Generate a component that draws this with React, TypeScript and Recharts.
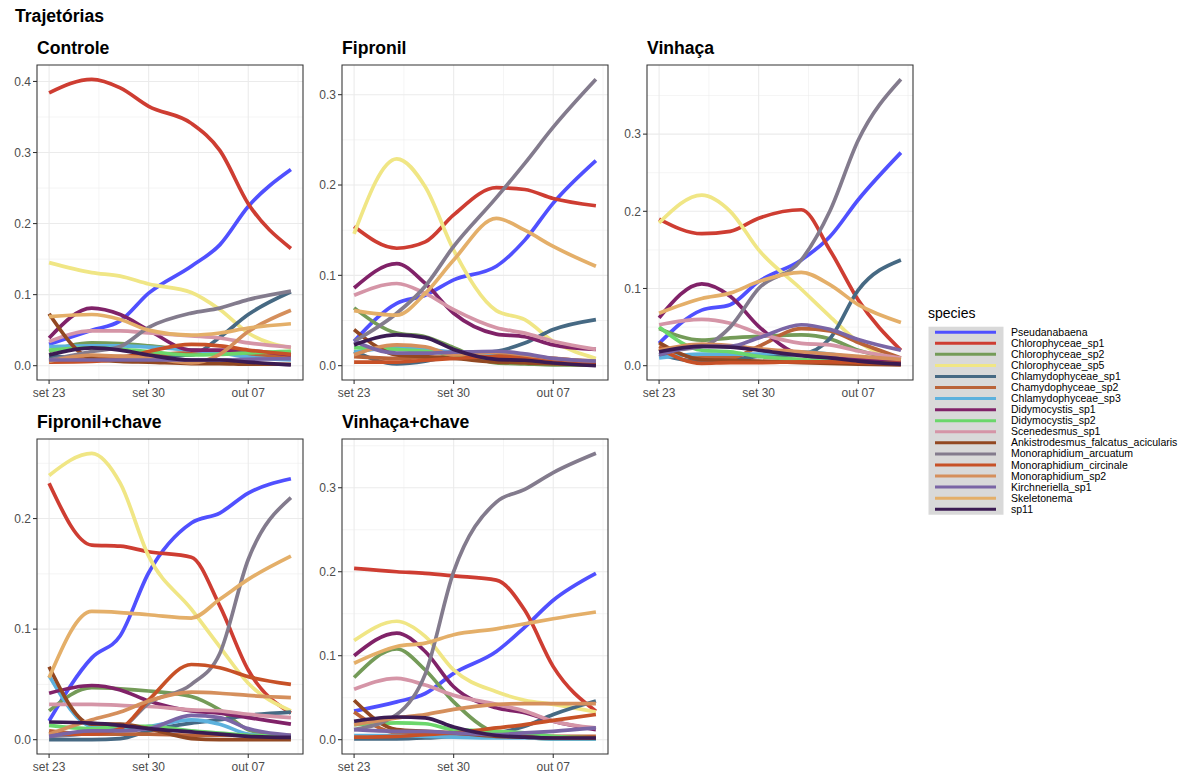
import React from "react";
import { LineChart, Line, XAxis, YAxis, CartesianGrid, ReferenceArea } from "recharts";

// Sampling days (days after set 23)
const days = [0, 3, 5, 7, 10, 12, 14, 17];
const tickDays = [0, 7, 14];
const tickLabels = ["set 23", "set 30", "out 07"];
const minorDays = [3.5, 10.5, 17.5];

const species = [
  "Pseudanabaena",
  "Chlorophyceae_sp1",
  "Chlorophyceae_sp2",
  "Chlorophyceae_sp5",
  "Chlamydophyceae_sp1",
  "Chamydophyceae_sp2",
  "Chlamydophyceae_sp3",
  "Didymocystis_sp1",
  "Didymocystis_sp2",
  "Scenedesmus_sp1",
  "Ankistrodesmus_falcatus_acicularis",
  "Monoraphidium_arcuatum",
  "Monoraphidium_circinale",
  "Monoraphidium_sp2",
  "Kirchneriella_sp1",
  "Skeletonema",
  "sp11",
];

const colors = [
  "#5050FF", "#CE3D32", "#749B58", "#F0E685", "#466983", "#BA6338",
  "#5DB1DD", "#802268", "#6BD76B", "#D595A7", "#924822", "#837B8D",
  "#C75127", "#D58F5C", "#7A65A5", "#E4AF69", "#3B1B53",
];

// One row per species (same order as `species`), one column per sampling day
const controle = [
  [0.030, 0.050, 0.063, 0.102, 0.140, 0.170, 0.224, 0.276],
  [0.384, 0.403, 0.391, 0.365, 0.341, 0.303, 0.228, 0.165],
  [0.020, 0.032, 0.031, 0.028, 0.022, 0.020, 0.019, 0.018],
  [0.145, 0.131, 0.126, 0.115, 0.103, 0.079, 0.046, 0.025],
  [0.013, 0.011, 0.012, 0.013, 0.015, 0.040, 0.072, 0.104],
  [0.008, 0.012, 0.013, 0.015, 0.018, 0.017, 0.015, 0.012],
  [0.027, 0.028, 0.028, 0.026, 0.022, 0.018, 0.012, 0.008],
  [0.039, 0.081, 0.072, 0.050, 0.022, 0.022, 0.021, 0.015],
  [0.022, 0.025, 0.023, 0.020, 0.015, 0.016, 0.018, 0.020],
  [0.034, 0.049, 0.049, 0.046, 0.042, 0.039, 0.032, 0.026],
  [0.073, 0.010, 0.006, 0.005, 0.003, 0.003, 0.002, 0.002],
  [0.008, 0.020, 0.027, 0.054, 0.074, 0.081, 0.093, 0.105],
  [0.005, 0.006, 0.010, 0.020, 0.030, 0.028, 0.022, 0.016],
  [0.006, 0.015, 0.013, 0.011, 0.004, 0.016, 0.048, 0.078],
  [0.008, 0.008, 0.008, 0.008, 0.008, 0.008, 0.009, 0.010],
  [0.069, 0.072, 0.065, 0.050, 0.043, 0.046, 0.053, 0.059],
  [0.015, 0.025, 0.022, 0.015, 0.008, 0.008, 0.005, 0.001],
];

const fipronil = [
  [0.027, 0.069, 0.078, 0.095, 0.110, 0.139, 0.180, 0.227],
  [0.154, 0.130, 0.137, 0.167, 0.197, 0.195, 0.185, 0.177],
  [0.064, 0.036, 0.032, 0.020, 0.003, 0.002, 0.001, 0.001],
  [0.146, 0.229, 0.198, 0.128, 0.061, 0.051, 0.027, 0.008],
  [0.016, 0.002, 0.005, 0.012, 0.016, 0.025, 0.040, 0.051],
  [0.010, 0.008, 0.009, 0.010, 0.012, 0.010, 0.008, 0.004],
  [0.015, 0.020, 0.018, 0.015, 0.010, 0.007, 0.005, 0.003],
  [0.086, 0.113, 0.091, 0.058, 0.035, 0.032, 0.023, 0.018],
  [0.020, 0.018, 0.016, 0.012, 0.004, 0.003, 0.002, 0.001],
  [0.078, 0.091, 0.080, 0.062, 0.042, 0.036, 0.027, 0.018],
  [0.040, 0.012, 0.010, 0.008, 0.004, 0.003, 0.002, 0.001],
  [0.027, 0.058, 0.088, 0.132, 0.186, 0.224, 0.264, 0.317],
  [0.004, 0.004, 0.006, 0.008, 0.010, 0.008, 0.006, 0.003],
  [0.012, 0.023, 0.021, 0.012, 0.015, 0.012, 0.008, 0.005],
  [0.027, 0.014, 0.014, 0.015, 0.016, 0.013, 0.008, 0.005],
  [0.061, 0.056, 0.080, 0.117, 0.163, 0.150, 0.132, 0.110],
  [0.023, 0.034, 0.031, 0.018, 0.007, 0.006, 0.003, 0.000],
];

const vinhaca = [
  [0.029, 0.072, 0.079, 0.109, 0.137, 0.167, 0.215, 0.276],
  [0.190, 0.171, 0.174, 0.191, 0.202, 0.150, 0.085, 0.020],
  [0.048, 0.033, 0.036, 0.038, 0.040, 0.035, 0.020, 0.008],
  [0.185, 0.221, 0.200, 0.150, 0.099, 0.064, 0.031, 0.008],
  [0.015, 0.005, 0.008, 0.012, 0.015, 0.035, 0.098, 0.137],
  [0.025, 0.010, 0.010, 0.025, 0.048, 0.045, 0.030, 0.010],
  [0.010, 0.015, 0.015, 0.015, 0.018, 0.015, 0.010, 0.005],
  [0.062, 0.106, 0.090, 0.051, 0.014, 0.010, 0.008, 0.005],
  [0.050, 0.020, 0.018, 0.012, 0.008, 0.006, 0.004, 0.002],
  [0.053, 0.060, 0.055, 0.042, 0.029, 0.027, 0.019, 0.010],
  [0.030, 0.008, 0.007, 0.006, 0.004, 0.003, 0.002, 0.001],
  [0.019, 0.025, 0.050, 0.100, 0.137, 0.200, 0.292, 0.371],
  [0.022, 0.003, 0.004, 0.004, 0.005, 0.005, 0.004, 0.003],
  [0.020, 0.028, 0.026, 0.022, 0.018, 0.015, 0.012, 0.008],
  [0.014, 0.025, 0.025, 0.036, 0.053, 0.047, 0.034, 0.020],
  [0.068, 0.087, 0.094, 0.109, 0.121, 0.105, 0.079, 0.056],
  [0.018, 0.025, 0.024, 0.020, 0.013, 0.010, 0.006, 0.002],
];

const fipronilChave = [
  [0.017, 0.074, 0.094, 0.151, 0.196, 0.205, 0.223, 0.236],
  [0.232, 0.176, 0.175, 0.170, 0.165, 0.121, 0.063, 0.024],
  [0.026, 0.047, 0.046, 0.044, 0.039, 0.027, 0.009, 0.002],
  [0.239, 0.259, 0.232, 0.166, 0.118, 0.084, 0.051, 0.026],
  [0.000, 0.000, 0.001, 0.008, 0.015, 0.018, 0.022, 0.025],
  [0.008, 0.005, 0.005, 0.005, 0.004, 0.004, 0.004, 0.004],
  [0.058, 0.012, 0.010, 0.012, 0.018, 0.014, 0.005, 0.002],
  [0.042, 0.049, 0.045, 0.035, 0.026, 0.024, 0.020, 0.014],
  [0.013, 0.010, 0.012, 0.012, 0.008, 0.006, 0.004, 0.003],
  [0.032, 0.032, 0.031, 0.030, 0.027, 0.026, 0.023, 0.020],
  [0.066, 0.014, 0.014, 0.010, 0.001, 0.000, 0.000, 0.000],
  [0.003, 0.006, 0.010, 0.033, 0.050, 0.078, 0.163, 0.219],
  [0.005, 0.005, 0.010, 0.036, 0.068, 0.065, 0.057, 0.050],
  [0.005, 0.018, 0.025, 0.035, 0.043, 0.042, 0.040, 0.038],
  [0.003, 0.008, 0.008, 0.010, 0.022, 0.020, 0.010, 0.004],
  [0.056, 0.116, 0.115, 0.113, 0.110, 0.127, 0.145, 0.166],
  [0.016, 0.015, 0.013, 0.010, 0.007, 0.005, 0.003, 0.002],
];

const vinhacaChave = [
  [0.034, 0.045, 0.055, 0.079, 0.105, 0.134, 0.166, 0.198],
  [0.204, 0.200, 0.198, 0.195, 0.190, 0.154, 0.087, 0.034],
  [0.074, 0.108, 0.083, 0.045, 0.008, 0.003, 0.001, 0.001],
  [0.118, 0.141, 0.123, 0.083, 0.057, 0.047, 0.042, 0.033],
  [0.001, 0.001, 0.002, 0.004, 0.008, 0.016, 0.030, 0.046],
  [0.033, 0.008, 0.007, 0.006, 0.005, 0.005, 0.004, 0.004],
  [0.005, 0.005, 0.004, 0.003, 0.002, 0.002, 0.001, 0.001],
  [0.100, 0.127, 0.105, 0.063, 0.038, 0.032, 0.022, 0.012],
  [0.018, 0.020, 0.019, 0.012, 0.010, 0.008, 0.004, 0.002],
  [0.060, 0.073, 0.065, 0.053, 0.042, 0.034, 0.022, 0.014],
  [0.047, 0.012, 0.010, 0.008, 0.004, 0.003, 0.002, 0.002],
  [0.012, 0.030, 0.078, 0.200, 0.283, 0.298, 0.318, 0.341],
  [0.003, 0.004, 0.006, 0.008, 0.014, 0.018, 0.023, 0.030],
  [0.018, 0.026, 0.030, 0.036, 0.042, 0.043, 0.043, 0.043],
  [0.012, 0.010, 0.010, 0.008, 0.006, 0.008, 0.010, 0.014],
  [0.091, 0.111, 0.115, 0.125, 0.132, 0.138, 0.144, 0.152],
  [0.022, 0.027, 0.026, 0.015, 0.005, 0.003, 0.002, 0.002],
];

const FONT = "'Liberation Sans', Arial, Helvetica, sans-serif";

// Facet layout: plot-frame origin of each panel on the page
const panels = [
  { title: "Controle", values: controle, left: 37, top: 65 },
  { title: "Fipronil", values: fipronil, left: 342, top: 65 },
  { title: "Vinhaça", values: vinhaca, left: 647, top: 65 },
  { title: "Fipronil+chave", values: fipronilChave, left: 37, top: 439 },
  { title: "Vinhaça+chave", values: vinhacaChave, left: 342, top: 439 },
];

const FRAME_W = 266;
const FRAME_H = 315;
const Y_AXIS_W = 40;
const X_AXIS_H = 30;
const PAD = 6;

function buildRows(values: number[][]) {
  return days.map((d, j) => {
    const row: Record<string, number> = { day: d };
    species.forEach((s, i) => {
      row[s] = values[i][j];
    });
    return row;
  });
}

function expand(lo: number, hi: number): [number, number] {
  const r = hi - lo;
  return [lo - 0.05 * r, hi + 0.05 * r];
}

function Panel({ values, left, top }: { values: number[][]; left: number; top: number }) {
  const rows = buildRows(values);
  const flat = values.flat();
  const yDomain = expand(Math.min(0, ...flat), Math.max(...flat));
  const xDomain = expand(days[0], days[days.length - 1]);
  const majorY: number[] = [];
  const minorY: number[] = [];
  for (let k = 0; k / 10 <= yDomain[1]; k++) majorY.push(k / 10);
  for (let k = 0; (k + 0.5) / 10 <= yDomain[1]; k++) minorY.push((k + 0.5) / 10);
  const width = FRAME_W + Y_AXIS_W + PAD;
  const height = FRAME_H + PAD + X_AXIS_H;
  return (
    <div style={{ position: "absolute", left: left - Y_AXIS_W, top: top - PAD }}>
      <LineChart
        width={width}
        height={height}
        data={rows}
        margin={{ top: PAD, right: PAD, left: 0, bottom: 0 }}
      >
        <CartesianGrid
          stroke="#EBEBEB"
          strokeWidth={0.55}
          horizontalValues={minorY}
          verticalValues={minorDays}
          fill="none"
        />
        <CartesianGrid
          stroke="#EBEBEB"
          strokeWidth={1.07}
          horizontalValues={majorY}
          verticalValues={tickDays}
          fill="none"
        />
        <XAxis
          dataKey="day"
          type="number"
          domain={xDomain}
          allowDataOverflow
          ticks={tickDays}
          interval={0}
          tickFormatter={(v: number) => tickLabels[tickDays.indexOf(v)]}
          height={X_AXIS_H}
          axisLine={false}
          tickSize={4}
          tickMargin={4}
          tickLine={{ stroke: "#333333", strokeWidth: 1.07 }}
          tick={{ fill: "#4D4D4D", fontSize: 12, fontFamily: FONT }}
        />
        <YAxis
          type="number"
          domain={yDomain}
          allowDataOverflow
          ticks={majorY}
          interval={0}
          tickFormatter={(v: number) => v.toFixed(1)}
          width={Y_AXIS_W}
          axisLine={false}
          tickSize={4}
          tickMargin={2}
          tickLine={{ stroke: "#333333", strokeWidth: 1.07 }}
          tick={{ fill: "#4D4D4D", fontSize: 12, fontFamily: FONT }}
        />
        {species.map((s, i) => (
          <Line
            key={s}
            dataKey={s}
            type="monotone"
            stroke={colors[i]}
            strokeWidth={3.7}
            dot={false}
            activeDot={false}
            isAnimationActive={false}
          />
        ))}
        <ReferenceArea
          x1={xDomain[0]}
          x2={xDomain[1]}
          y1={yDomain[0]}
          y2={yDomain[1]}
          fill="none"
          fillOpacity={0}
          stroke="#333333"
          strokeWidth={1.07}
          ifOverflow="visible"
        />
      </LineChart>
    </div>
  );
}

function Labels() {
  const keyTop = 326.7;
  const keyH = 11.06;
  return (
    <svg
      width={1196}
      height={773}
      style={{ position: "absolute", left: 0, top: 0 }}
      fontFamily={FONT}
    >
      <text x={15} y={22} fontSize={17.6} fontWeight="bold" fill="#000">
        Trajetórias
      </text>
      {panels.map((p) => (
        <text key={p.title} x={p.left} y={p.top - 11} fontSize={17.6} fontWeight="bold" fill="#000">
          {p.title}
        </text>
      ))}
      <text x={928} y={318} fontSize={14} fill="#000">
        species
      </text>
      <rect x={928.5} y={keyTop} width={75} height={keyH * species.length} fill="#D9D9D9" />
      {species.map((s, i) => {
        const cy = keyTop + keyH * (i + 0.5);
        return (
          <g key={s}>
            <line x1={935} x2={996} y1={cy} y2={cy} stroke={colors[i]} strokeWidth={3} />
            <text x={1011} y={cy + 3.6} fontSize={10.5} fill="#000">
              {s}
            </text>
          </g>
        );
      })}
    </svg>
  );
}

export default function App() {
  return (
    <div
      style={{
        position: "absolute",
        left: 0,
        top: 0,
        width: 1196,
        height: 773,
        background: "#FFFFFF",
        overflow: "hidden",
      }}
    >
      <Labels />
      {panels.map((p) => (
        <Panel key={p.title} values={p.values} left={p.left} top={p.top} />
      ))}
    </div>
  );
}
